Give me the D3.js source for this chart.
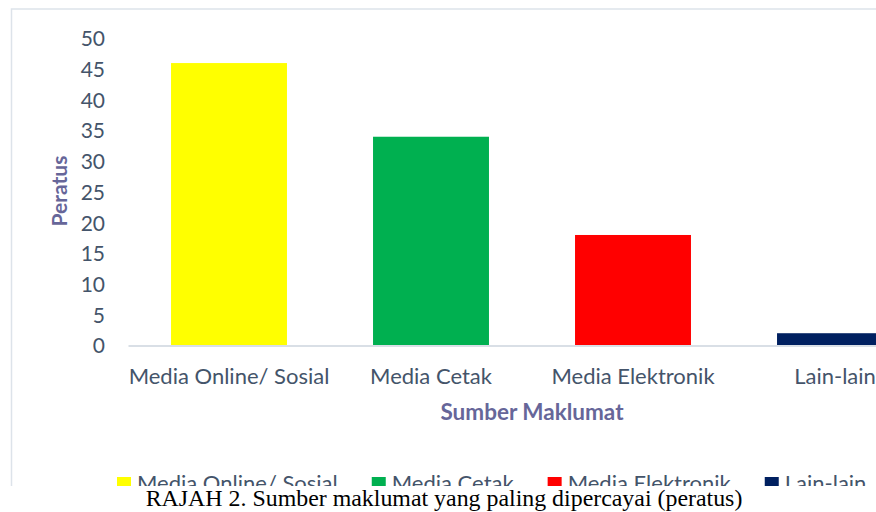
<!DOCTYPE html>
<html>
<head>
<meta charset="utf-8">
<script src="https://cdn.jsdelivr.net/npm/d3@7"></script>
<style>
  html, body { margin: 0; padding: 0; background: #fff; }
  svg { display: block; }
</style>
</head>
<body>
<svg id="chart" width="876" height="512"></svg>
<script>
const categories = ["Media Online/ Sosial", "Media Cetak", "Media Elektronik", "Lain-lain"];
const values = [46, 34, 18, 2];
const colors = ["#ffff00", "#00b050", "#ff0000", "#002060"];
const yTicks = [0, 5, 10, 15, 20, 25, 30, 35, 40, 45, 50];
const yTitle = "Peratus";
const xTitle = "Sumber Maklumat";
const caption = "RAJAH 2. Sumber maklumat yang paling dipercayai (peratus)";

const svg = d3.select("#chart");
const W = 876, H = 512;
const font = "Lato, 'Open Sans', sans-serif";
const textColor = "#44546a";
const titleColor = "#666699";

svg.append("rect").attr("width", W).attr("height", H).attr("fill", "#fff");

// chart frame
svg.append("rect")
  .attr("x", 11.5).attr("y", 9)
  .attr("width", 1000).attr("height", 600)
  .attr("fill", "#fff")
  .attr("stroke", "#dde3ea").attr("stroke-width", 1.5);

const x = d3.scaleBand().domain(categories).range([128, 936])
  .paddingInner(0.426).paddingOuter(0.213);
const y = d3.scaleLinear().domain([0, 50]).range([345.5, 38.5]);

// bars
svg.append("g").selectAll("rect").data(values).join("rect")
  .attr("x", (d, i) => x(categories[i]))
  .attr("y", d => y(d))
  .attr("width", x.bandwidth())
  .attr("height", d => y(0) - y(d))
  .attr("fill", (d, i) => colors[i]);

// y axis (labels only)
const yAxis = d3.axisLeft(y).tickValues(yTicks).tickSize(0).tickPadding(0);
const gy = svg.append("g").attr("transform", "translate(105,0)").call(yAxis);
gy.select(".domain").remove();
gy.selectAll("text")
  .attr("font-family", font).attr("font-size", 21)
  .attr("fill", textColor).attr("dy", "0.35em");

// x axis
const xAxis = d3.axisBottom(x).tickSize(0).tickPadding(0);
const gx = svg.append("g").attr("transform", `translate(0,${y(0)})`).call(xAxis);
gx.select(".domain").attr("stroke", "#d9dfe6").attr("stroke-width", 1.8);
gx.selectAll("text")
  .attr("font-family", font).attr("font-size", 22)
  .attr("fill", textColor).attr("y", 38).attr("dy", 0);

// axis titles
svg.append("text")
  .attr("x", 532).attr("y", 420)
  .attr("text-anchor", "middle")
  .attr("font-family", font).attr("font-size", 22.5).attr("font-weight", "bold")
  .attr("fill", titleColor).text(xTitle);

svg.append("text")
  .attr("transform", "translate(67,191) rotate(-90)")
  .attr("text-anchor", "middle")
  .attr("font-family", font).attr("font-size", 21).attr("font-weight", "bold")
  .attr("fill", titleColor).text(yTitle);

// legend
const legend = svg.append("g");
let lx = 117;
categories.forEach((c, i) => {
  const g = legend.append("g");
  g.append("rect").attr("x", lx).attr("y", 477).attr("width", 14).attr("height", 14)
    .attr("fill", colors[i]);
  const t = g.append("text").attr("x", lx + 20).attr("y", 491)
    .attr("font-family", font).attr("font-size", 22)
    .attr("fill", textColor).text(c);
  lx += 20 + t.node().getComputedTextLength() + 34;
});

// caption area covers the bottom of the chart
svg.append("rect").attr("x", 0).attr("y", 486).attr("width", W).attr("height", H - 486)
  .attr("fill", "#fff");

const cap = svg.append("text")
  .attr("x", 444).attr("y", 506)
  .attr("text-anchor", "middle")
  .attr("font-family", "'Liberation Serif', 'Times New Roman', serif")
  .attr("font-size", 20)
  .attr("fill", "#000").text(caption);
const cw = cap.node().getComputedTextLength();
cap.attr("font-size", 20 * 597 / cw);
</script>
</body>
</html>
